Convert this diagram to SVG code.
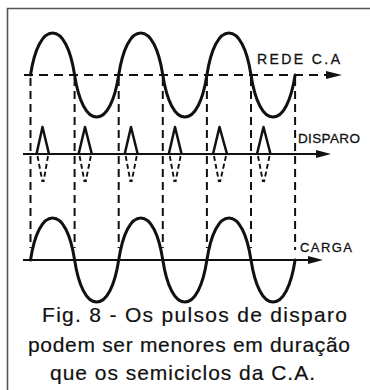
<svg xmlns="http://www.w3.org/2000/svg" width="370" height="390" viewBox="0 0 370 390">
  <defs>
    <style>
      .wave { fill: none; stroke: #111; stroke-width: 3; stroke-linejoin: round; stroke-linecap: round; }
      .axis { fill: none; stroke: #111; stroke-width: 2.2; }
      .axisdash { fill: none; stroke: #111; stroke-width: 2.2; stroke-dasharray: 9 6; }
      .guide { fill: none; stroke: #111; stroke-width: 2; stroke-dasharray: 8 5; }
      .pulse { fill: none; stroke: #111; stroke-width: 2.5; stroke-linejoin: round; }
      .pulsedash { fill: none; stroke: #111; stroke-width: 1.9; stroke-dasharray: 5 3; }
      .lbl { font-family: "Liberation Sans", Arial, sans-serif; fill: #111; stroke: #111; stroke-width: 0.3; }
      .cap { font-family: "Liberation Sans", Arial, sans-serif; font-size: 21px; fill: #111; stroke: #111; stroke-width: 0.2; }
      .head { fill: #111; }
    </style>
  </defs>
  <rect width="370" height="390" fill="#fff"/>
  <polyline id="frame" points="7.5,390 7.5,8.5 370,8.5" fill="none" stroke="#555" stroke-width="1.6"/>

  <g id="connectors">
    <line class="guide" x1="30.5" y1="78" x2="30.5" y2="248"/>
    <line class="guide" x1="74.6" y1="78" x2="74.6" y2="248"/>
    <line class="guide" x1="118.7" y1="78" x2="118.7" y2="248"/>
    <line class="guide" x1="162.8" y1="78" x2="162.8" y2="248"/>
    <line class="guide" x1="206.9" y1="78" x2="206.9" y2="248"/>
    <line class="guide" x1="251" y1="78" x2="251" y2="248"/>
    <line class="guide" x1="295.1" y1="78" x2="295.1" y2="250"/>
  </g>

  <g id="rede">
    <line class="axisdash" x1="24" y1="75" x2="328" y2="75"/>
    <polygon class="head" points="342,75 326,71 326,79"/>
    <path class="wave" d="M30.5,75 c4,-26 12,-42 22.05,-42 s18.05,16 22.05,42 s12,42 22.05,42 s18.05,-16 22.05,-42 s12,-42 22.05,-42 s18.05,16 22.05,42 s12,42 22.05,42 s18.05,-16 22.05,-42 s12,-42 22.05,-42 s18.05,16 22.05,42 s12,42 22.05,42 s18.05,-16 22.05,-42"/>
    <text class="lbl" x="257" y="64" font-size="14" textLength="83" lengthAdjust="spacing">REDE C.A</text>
  </g>

  <g id="disparo">
    <line class="axis" x1="23" y1="154" x2="318" y2="154"/>
    <polygon class="head" points="331,154 316,150 316,158"/>
    <g id="pulse1">
      <polyline class="pulse" points="36.5,154 42.5,127 49,154"/>
      <path class="pulsedash" d="M37.5,156 L42.5,182 M48,156 L43.5,182"/>
    </g>
    <g id="pulse2">
      <polyline class="pulse" points="78.6,154 85,127 91.8,154"/>
      <path class="pulsedash" d="M79.6,156 L84.6,182 M90.8,156 L85.6,182"/>
    </g>
    <g id="pulse3">
      <polyline class="pulse" points="124.7,154 131,127 137.7,154"/>
      <path class="pulsedash" d="M125.7,156 L130.5,182 M136.7,156 L131.5,182"/>
    </g>
    <g id="pulse4">
      <polyline class="pulse" points="168.8,154 175,127 181.6,154"/>
      <path class="pulsedash" d="M169.8,156 L174.5,182 M180.6,156 L175.5,182"/>
    </g>
    <g id="pulse5">
      <polyline class="pulse" points="213,154 219.5,127 227,154"/>
      <path class="pulsedash" d="M214,156 L219,182 M226,156 L220,182"/>
    </g>
    <g id="pulse6">
      <polyline class="pulse" points="257,154 263.5,127 270.5,154"/>
      <path class="pulsedash" d="M258,156 L263,182 M269.5,156 L264,182"/>
    </g>
    <text class="lbl" x="298" y="143" font-size="13.5" textLength="62" lengthAdjust="spacing">DISPARO</text>
  </g>

  <g id="carga">
    <line class="axis" x1="23" y1="260" x2="310" y2="260"/>
    <polygon class="head" points="323,260 308,256 308,264"/>
    <path class="wave" d="M30.5,260 c4,-26 12,-42 22.05,-42 s18.05,16 22.05,42 s12,42 22.05,42 s18.05,-16 22.05,-42 s12,-42 22.05,-42 s18.05,16 22.05,42 s12,42 22.05,42 s18.05,-16 22.05,-42 s12,-42 22.05,-42 s18.05,16 22.05,42 s12,42 22.05,42 s18.05,-16 22.05,-42"/>
    <text class="lbl" x="300" y="252" font-size="13" textLength="52" lengthAdjust="spacing">CARGA</text>
  </g>

  <g id="caption">
    <text class="cap" x="42" y="322" textLength="305" lengthAdjust="spacing">Fig. 8 - Os pulsos de disparo</text>
    <text class="cap" x="28" y="352" textLength="322" lengthAdjust="spacing">podem ser menores em duração</text>
    <text class="cap" x="50" y="380" textLength="265" lengthAdjust="spacing">que os semiciclos da C.A.</text>
  </g>
</svg>
